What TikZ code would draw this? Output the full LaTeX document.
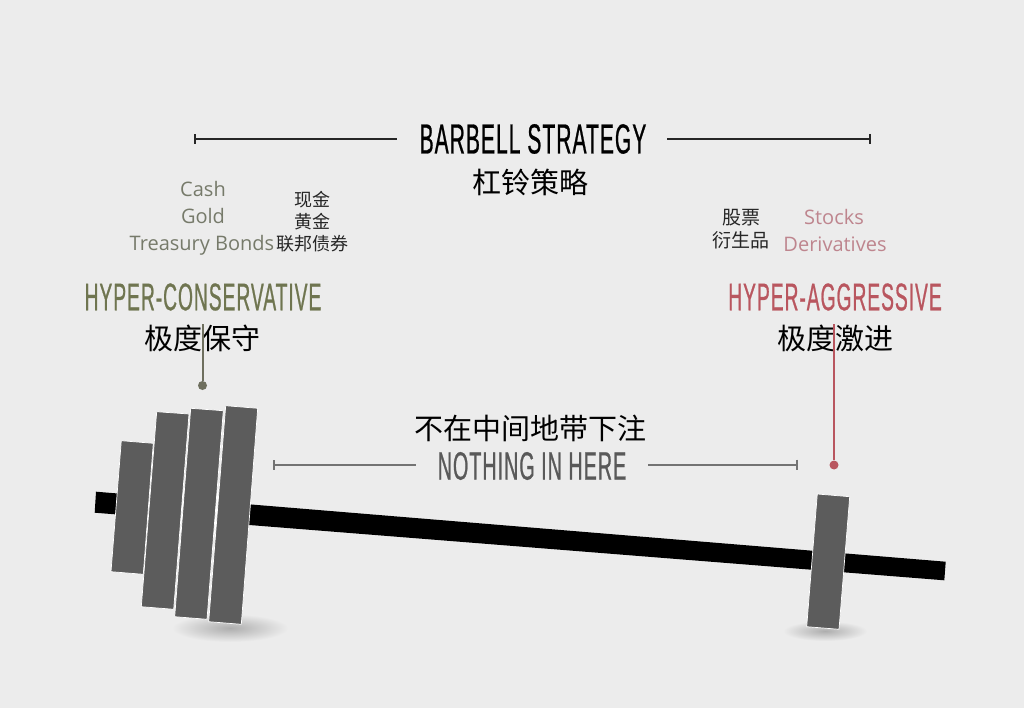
\documentclass[tikz,border=0pt]{standalone}
\usepackage{fontspec}
\setmainfont{Open Sans}
\newfontfamily\cjk{Noto Sans CJK SC}
\newfontfamily\headfont[FakeStretch=0.5,FakeBold=0.6,LetterSpace=2.5]{Liberation Sans}
\usetikzlibrary{arrows.meta}
\definecolor{bg}{HTML}{ECECEC}
\definecolor{olive}{HTML}{6F7550}
\definecolor{olivedot}{HTML}{6E6F5E}
\definecolor{olivetext}{HTML}{767A6A}
\definecolor{rose}{HTML}{B9565F}
\definecolor{rosetext}{HTML}{BE858E}
\definecolor{plategray}{HTML}{5C5C5C}
\begin{document}
\begin{tikzpicture}[x=1pt, y=-1pt, every node/.style = {inner sep=0pt, align=center},
  head/.style = {font=\headfont\fontsize{42}{42}\selectfont},
  subhead/.style = {font=\headfont\fontsize{38.5}{38.5}\selectfont},
  cjkbig/.style = {font=\cjk\fontsize{29}{29}\selectfont, text=black},
  cjksmall/.style = {font=\cjk\fontsize{18}{22}\selectfont, text=black!85},
  item/.style = {font=\fontsize{20}{27}\selectfont},
  rule/.style = {line width=2pt, {Bar[width=10pt,length=2pt]}-},
  plate/.style = {fill=plategray, draw=white, line width=0.7pt},
  dot/.style = {circle, minimum size=9pt}]
  \useasboundingbox[fill=bg] (0,0) rectangle (1024,708);
  % shadows
  \shade[inner color=black!32, outer color=bg] (230,628) ellipse (58 and 14);
  \shade[inner color=black!32, outer color=bg] (825,631) ellipse (42 and 10);
  % bar
  \fill[black] (96,491.7) -- (945.7,561.7) -- (944.3,580.3) -- (94.7,512.7) -- cycle;
  \fill[white] (125,485) -- (240,490) -- (238,535) -- (122,530) -- cycle;
  % plates
  \path[plate] (121.3,440.7) -- (153.3,443.3) -- (143.3,574.3) -- (111,571.7) -- cycle;
  \path[plate] (156.7,411.7) -- (189,414) -- (173.7,609.3) -- (141.3,606.7) -- cycle;
  \path[plate] (190.7,408.3) -- (223.3,410.7) -- (207,619.3) -- (174.7,616.7) -- cycle;
  \path[plate] (225.7,405.7) -- (257.7,408.3) -- (241.3,624.3) -- (208.7,621.7) -- cycle;
  \path[plate] (817.3,494) -- (849.7,496.7) -- (839,629.3) -- (806.7,626.7) -- cycle;
  % title
  \node[head] (title) at (533,139) {BARBELL STRATEGY};
  \node[cjkbig] (titlecn) at (530,182) {杠铃策略};
  \coordinate (titleleft) at (193.5,139);
  \coordinate (titleright) at (870.5,139);
  \draw[rule, draw=black!85] (titleleft) -- ([xshift=-22pt]title.west |- titleleft);
  \draw[rule, draw=black!85] (titleright) -- ([xshift=20pt]title.east |- titleright);
  % left side
  \node[item, text=olivetext] (cash) at (203,189) {Cash};
  \node[item, text=olivetext] (gold) at (203,216) {Gold};
  \node[item, text=olivetext] (bonds) at (202,245.5) {Treasury Bonds};
  \node[cjksmall] (safecn) at (312,221.5) {现金\\黄金\\联邦债券};
  \node[subhead, text=olive] (conserv) at (203,297) {HYPER-CONSERVATIVE};
  \node[cjkbig] (conservcn) at (202.5,338) {极度保守};
  \node[dot, fill=olivedot] (conservdot) at (202.5,385.5) {};
  \draw[olivedot, line width=2pt] (conservcn.north) -- (conservdot);
  % right side
  \node[cjksmall, font=\cjk\fontsize{19}{23}\selectfont] (riskcn) at (741,229) {股票\\衍生品};
  \node[item, text=rosetext] (stocks) at (834,217) {Stocks};
  \node[item, text=rosetext] (deriv) at (835,244) {Derivatives};
  \node[subhead, text=rose] (aggress) at (835,297) {HYPER-AGGRESSIVE};
  \node[cjkbig] (aggresscn) at (835,338) {极度激进};
  \node[dot, fill=rose] (aggressdot) at (834,465) {};
  \draw[rose, line width=2pt] (aggressdot |- aggresscn.north) -- (aggressdot);
  % middle
  \node[cjkbig] (nothingcn) at (530.5,428) {不在中间地带下注};
  \node[head, text=black!65, font=\headfont\fontsize{39.5}{39.5}\selectfont] (nothing) at (532,466) {NOTHING IN HERE};
  \coordinate (gapleft) at (273,464.5);
  \coordinate (gapright) at (797.5,464.5);
  \draw[rule, draw=black!55] (gapleft) -- ([xshift=-22pt]nothing.west |- gapleft);
  \draw[rule, draw=black!55] (gapright) -- ([xshift=22pt]nothing.east |- gapright);
\end{tikzpicture}
\end{document}
